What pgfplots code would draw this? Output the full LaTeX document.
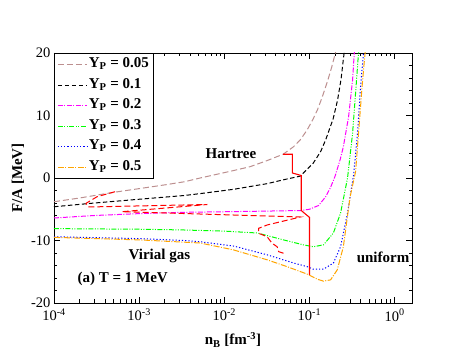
\documentclass[border=0pt]{standalone}
\usepackage{fontspec}
\setmainfont{Liberation Serif}
\usepackage{pgfplots}
\pgfplotsset{compat=1.18}
\definecolor{rosy}{RGB}{188,143,143}
\definecolor{limeg}{RGB}{0,255,0}
\definecolor{orng}{RGB}{255,165,0}
\definecolor{mag}{RGB}{255,0,255}
\definecolor{blu}{RGB}{0,0,255}
\definecolor{pureRed}{RGB}{255,0,0}
\begin{document}
\begin{tikzpicture}
\useasboundingbox (-54pt,-55pt) rectangle (409pt,303pt);
\begin{axis}[
  at={(0pt,0pt)}, anchor=south west, scale only axis,
  width=358pt, height=250pt,
  xmode=log, xmin=1e-4, xmax=1.6, ymin=-20, ymax=20,
  xtick={1e-4,1e-3,1e-2,1e-1,1},
  xticklabels={10\textsuperscript{-4},10\textsuperscript{-3},10\textsuperscript{-2},10\textsuperscript{-1},10\textsuperscript{0}},
  ytick={-20,-10,0,10,20}, yticklabels={-20,-10,0,10,20},
  minor y tick num=4,
  tick align=inside, major tick length=6pt, minor tick length=3.5pt,
  tick style={black, line width=0.6pt},
  axis line style={line width=0.8pt},
  tick label style={font=\fontsize{14.5}{16}\selectfont},
  xticklabel style={yshift=-2.5pt},
  xlabel={n\textsubscript{B} [fm\textsuperscript{-3}]},
  ylabel={F/A [MeV]},
  label style={font=\fontsize{15}{18}\selectfont\bfseries},
  xlabel style={at={(axis description cs:0.5,-0.148)}, anchor=center},
  ylabel style={at={(axis description cs:-0.1006,0.5)}, anchor=center},
  legend style={at={(0,1)}, anchor=north west, draw=black, line width=0.6pt, fill=white,
    font=\fontsize{15}{16}\selectfont\bfseries, row sep=2pt,
    nodes={inner sep=1.5pt, text height=11pt, text depth=4.5pt}},
  legend cell align=left,
  legend image code/.code={\draw[#1, line width=1pt] (2pt,0pt) -- (31pt,0pt);},
  every axis plot/.append style={line width=1pt},
]
% Y_P = 0.05
\addplot[rosy, dash pattern=on 6pt off 3pt] coordinates {
(1e-4,-3.8) (2e-4,-3.2) (5e-4,-2.3) (1e-3,-1.7) (2e-3,-1.1) (3.4e-3,-0.6) (5.2e-3,0)
(0.012,1.1) (0.02,1.8) (0.032,2.8) (0.049,3.8) (0.065,5.0) (0.078,6.1) (0.094,7.7)
(0.11,9.4) (0.124,10.9) (0.14,12.8) (0.163,15.5) (0.183,17.8) (0.205,20.4)};
\addlegendentry{Y\textsubscript{P} = 0.05}
% Y_P = 0.1
\addplot[black, dash pattern=on 4.5pt off 2.5pt] coordinates {
(1e-4,-4.6) (3e-4,-4.0) (1e-3,-3.4) (3.4e-3,-2.8) (5.2e-3,-2.5) (0.013,-1.8) (0.032,-0.9)
(0.049,-0.3) (0.078,0.3) (0.111,2.4) (0.135,4.2) (0.155,6.1) (0.19,9.5) (0.214,12.5)
(0.235,15.8) (0.25,19.0) (0.258,20.5)};
\addlegendentry{Y\textsubscript{P} = 0.1}
% Y_P = 0.2
\addplot[mag, dash pattern=on 5pt off 1.5pt on 1pt off 1.5pt] coordinates {
(1e-4,-6.4) (3e-4,-6.0) (1e-3,-5.7) (3e-3,-5.5) (0.01,-5.4) (0.03,-5.3) (0.08,-5.2)
(0.1,-5.0) (0.128,-4.4) (0.155,-3.0) (0.177,-1.5) (0.2,0.3) (0.23,3.0) (0.25,5.0)
(0.288,9.8) (0.321,15.7) (0.337,20.3)};
\addlegendentry{Y\textsubscript{P} = 0.2}
% Y_P = 0.3
\addplot[limeg, dash pattern=on 5pt off 1.5pt on 1pt off 1.5pt on 1pt off 1.5pt] coordinates {
(1e-4,-8.1) (1e-3,-8.2) (3e-3,-8.3) (0.01,-8.5) (0.0244,-8.8) (0.0494,-9.9) (0.085,-10.7)
(0.111,-11.0) (0.146,-10.7) (0.191,-8.8) (0.232,-5.6) (0.28,0) (0.321,7.2) (0.348,13.6)
(0.378,20.3)};
\addlegendentry{Y\textsubscript{P} = 0.3}
% Y_P = 0.4
\addplot[blu, dash pattern=on 1.2pt off 2pt] coordinates {
(1e-4,-9.4) (1e-3,-9.7) (3.4e-3,-10.0) (5.2e-3,-10.2) (0.013,-10.9) (0.032,-12.3)
(0.065,-13.6) (0.095,-14.2) (0.111,-14.6) (0.146,-14.6) (0.191,-13.6) (0.232,-11)
(0.28,-5.6) (0.33,0.5) (0.367,7.2) (0.398,14.6) (0.433,20.3)};
\addlegendentry{Y\textsubscript{P} = 0.4}
% Y_P = 0.5
\addplot[orng, dash pattern=on 6pt off 1.5pt on 1pt off 1.5pt] coordinates {
(1e-4,-9.5) (1e-3,-9.9) (5.2e-3,-10.4) (0.0128,-11.5) (0.032,-13.1) (0.055,-14.2)
(0.095,-15.4) (0.124,-16.2) (0.146,-16.5) (0.177,-16.3) (0.212,-14.7) (0.25,-11)
(0.30,-3) (0.348,1.0) (0.377,7.2) (0.418,15.2) (0.452,20.3)};
\addlegendentry{Y\textsubscript{P} = 0.5}
% red solid boundary
\addplot[pureRed, forget plot, line width=1.1pt] coordinates {
(0.049,3.8) (0.063,3.8) (0.063,0.8) (0.08,0.4) (0.08,-5.2) (0.1,-6.3) (0.1,-15.5)};
% red dashed boundary
\addplot[pureRed, forget plot, dash pattern=on 6pt off 3pt] coordinates {
(5.22e-4,-2.19) (3.21e-4,-2.99) (2.38e-4,-4.05) (2.51e-4,-4.64) (6.31e-3,-4.24)
(6.31e-4,-5.39) (0.0783,-6.24) (0.0318,-7.52) (0.0253,-8.05) (0.0253,-8.85)
(0.0318,-9.39) (0.0364,-10.45) (0.0417,-10.99) (0.0435,-11.79) (0.0499,-12.05)};
\node[anchor=west, font=\fontsize{15}{18}\selectfont\bfseries] at (axis cs:5.5e-3,3.84) {Hartree};
\node[anchor=west, font=\fontsize{15}{18}\selectfont\bfseries] at (axis cs:6.84e-4,-12.5) {Virial gas};
\node[anchor=west, font=\fontsize{15}{18}\selectfont\bfseries] at (axis cs:1.72e-4,-16.2) {(a) T = 1 MeV};
\node[anchor=west, font=\fontsize{15}{18}\selectfont\bfseries] at (axis cs:0.3266,-12.64) {uniform};
\end{axis}
\end{tikzpicture}
\end{document}
